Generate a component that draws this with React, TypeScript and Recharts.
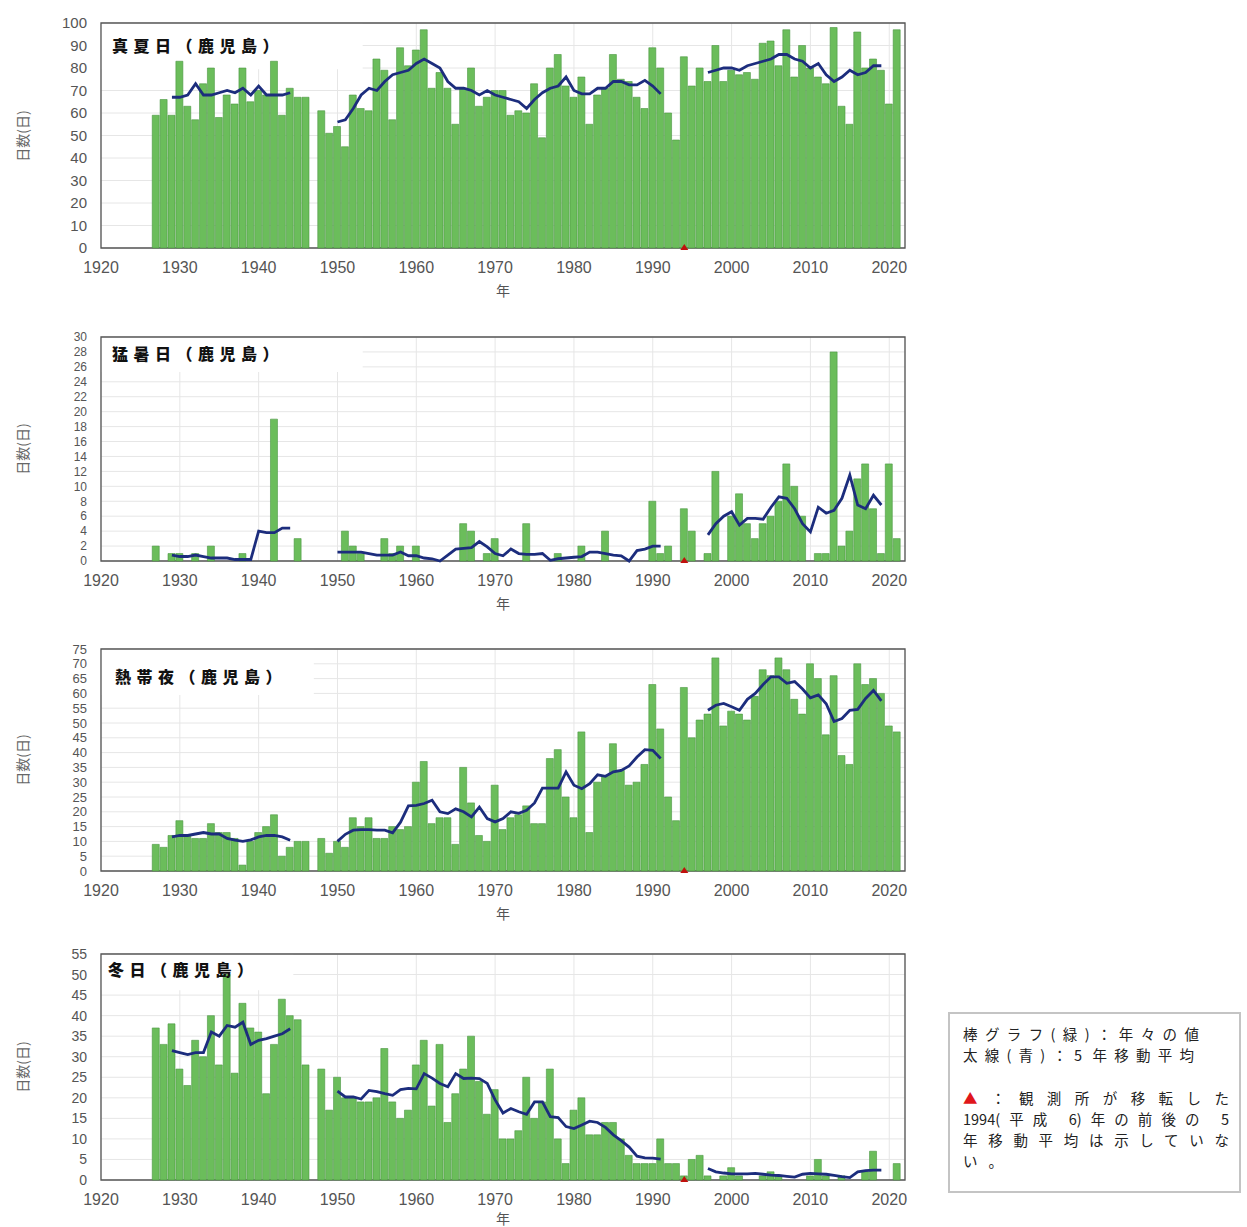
import React from 'react'
import {
  Bar,
  CartesianGrid,
  ComposedChart,
  Line,
  ReferenceArea,
  ReferenceDot,
  XAxis,
  YAxis,
} from 'recharts'

// 鹿児島: 真夏日・猛暑日・熱帯夜・冬日の年間日数 (1927–2021, 1947 欠測)
const FIRST_YEAR = 1927
const X_TICKS = [1920, 1930, 1940, 1950, 1960, 1970, 1980, 1990, 2000, 2010, 2020]

// 年々の値 (1927..2021)
const MANATSU = [
  59, 66, 59, 83, 63, 57, 73, 80, 58, 68, 64, 80, 65, 70, 68, 83, 59, 71, 67, 67,
  null,
  61, 51, 54, 45, 68, 62, 61, 84, 79, 57, 89, 81, 88, 97, 71, 78, 71, 55, 71, 80, 63, 67, 70,
  70, 59, 61, 60, 73, 49, 80, 86, 72, 67, 76, 55, 68, 71, 86, 75, 74, 67, 62, 89,
  80, 60, 48, 85, 72, 80, 74, 90, 74, 79, 77, 78, 75, 91, 92, 81, 97, 76, 90, 80,
  76, 73, 98, 63, 55, 96, 80, 84, 79, 64, 97,
]
const MOSHO = [
  2, 0, 1, 1, 0, 1, 0, 2, 0, 0, 0, 1, 0, 0, 0, 19, 0, 0, 3, 0,
  null,
  0, 0, 0, 4, 2, 1, 0, 0, 3, 1, 2, 0, 2, 0, 0, 0, 0, 0, 5, 4, 0, 1, 3,
  0, 0, 0, 5, 0, 0, 0, 1, 0, 0, 2, 0, 0, 4, 0, 0, 0, 0, 0, 8,
  1, 2, 0, 7, 4, 0, 1, 12, 0, 6, 9, 5, 3, 5, 6, 8, 13, 10, 6, 0,
  1, 1, 28, 2, 4, 11, 13, 7, 1, 13, 3,
]
const NETTAIYA = [
  9, 8, 12, 17, 12, 11, 11, 16, 13, 13, 11, 2, 10, 13, 15, 19, 5, 8, 10, 10,
  null,
  11, 6, 10, 8, 18, 15, 18, 11, 11, 15, 14, 15, 30, 37, 16, 18, 18, 9, 35, 23, 12, 10, 29,
  14, 18, 19, 22, 16, 16, 38, 41, 25, 18, 47, 13, 30, 32, 43, 34, 29, 30, 36, 63,
  48, 25, 17, 62, 45, 51, 53, 72, 49, 54, 53, 51, 59, 68, 66, 72, 68, 58, 53, 70,
  65, 46, 66, 39, 36, 70, 63, 65, 60, 49, 47,
]
const FUYUBI = [
  37, 33, 38, 27, 23, 34, 30, 40, 28, 50, 26, 43, 37, 36, 21, 33, 44, 40, 39, 28,
  null,
  27, 17, 25, 20, 20, 19, 19, 20, 32, 19, 15, 17, 28, 34, 18, 33, 14, 21, 27, 35, 24, 16, 22,
  10, 10, 12, 25, 15, 19, 27, 10, 4, 17, 20, 11, 11, 14, 14, 10, 6, 4, 4, 4,
  10, 4, 4, 1, 5, 6, 1, 0, 1, 3, 1, 0, 0, 1, 2, 1, 0, 0, 0, 1,
  5, 1, 0, 1, 0, 0, 2, 7, 0, 0, 4,
]

// 5年移動平均 (1929–1944, 1950–1991, 1997–2019)
const MANATSU_MA = [
  { start: 1929, values: [67, 67, 68, 73, 68, 68, 69, 70, 69, 71, 68, 72, 68, 68, 68, 69] },
  {
    start: 1950,
    values: [
      56, 57, 62, 68, 71, 70, 74, 77, 78, 79, 82, 84, 82, 80, 74, 71, 71, 70, 68, 70,
      68, 67, 66, 65, 62, 66, 69, 71, 72, 76, 70, 68.5, 68.5, 71, 71, 74, 74, 72.5, 72.5, 74.5,
      72, 68.5,
    ],
  },
  {
    start: 1997,
    values: [78, 79, 80, 80, 79, 81, 82, 83, 84, 86, 86, 84, 83, 80, 82, 77, 74, 76, 79, 77, 78, 81, 81],
  },
]
const MOSHO_MA = [
  { start: 1929, values: [0.8, 0.6, 0.6, 0.8, 0.6, 0.4, 0.4, 0.4, 0.2, 0.2, 0.2, 4.0, 3.8, 3.8, 4.4, 4.4] },
  {
    start: 1950,
    values: [
      1.2, 1.2, 1.2, 1.2, 1.0, 0.8, 0.8, 0.8, 1.2, 0.7, 0.7, 0.4, 0.3, 0.0, 0.8, 1.6, 1.7, 1.8, 2.6, 1.9,
      1.0, 0.7, 1.6, 1.0, 0.9, 0.9, 1.0, 0.1, 0.3, 0.4, 0.5, 0.6, 1.2, 1.2, 1.0, 0.8, 0.7, 0.0, 1.4, 1.6,
      2.0, 2.0,
    ],
  },
  {
    start: 1997,
    values: [3.5, 5, 6, 6.6, 4.8, 5.7, 5.7, 5.6, 7.2, 8.6, 8.4, 7, 5, 3.9, 7.2, 6.4, 6.8, 8.4, 11.5, 7.5, 7, 8.8, 7.5],
  },
]
const NETTAIYA_MA = [
  { start: 1929, values: [11.5, 12, 12, 12.5, 13, 12.5, 12.5, 11, 10.4, 10, 10.5, 11.5, 12, 12, 11.5, 10.4] },
  {
    start: 1950,
    values: [
      10, 12.4, 13.8, 14, 14, 13.8, 13.8, 12.9, 16.5, 22, 22.2, 22.8, 23.9, 20, 19.4, 21, 20, 18.3, 21.6, 17.7,
      16.6, 17.7, 20, 19.5, 20.5, 23, 28, 28, 28, 33.5, 29, 27.8, 29.5, 32.5, 32, 33.5, 34, 35.5, 38.5, 41,
      40.8, 38,
    ],
  },
  {
    start: 1997,
    values: [
      54.3, 56, 56.6, 55.5, 54.3, 58, 60, 63, 65.6, 65.6, 63.4, 64, 61.5, 58.5, 59.5, 56.5, 50.5, 51.5, 54.3,
      54.6, 58.3, 61, 57.5,
    ],
  },
]
const FUYUBI_MA = [
  { start: 1929, values: [31.5, 31, 30.5, 31, 31, 36, 35, 37.6, 37.2, 38.4, 33, 34, 34.4, 35, 35.6, 36.8] },
  {
    start: 1950,
    values: [
      21.6, 20.2, 20.2, 19.7, 21.8, 21.5, 21, 20.6, 22, 22.3, 22.2, 25.9, 24.8, 23.5, 22.7, 25.9, 24.7, 24.8,
      24.7, 23.5, 19.5, 16.3, 17.4, 16.6, 16, 19, 19, 15.4, 15.2, 13, 12.5, 13.4, 14.3, 14, 12.8, 11, 9.6, 8,
      5.8, 5.4, 5.3, 5.1,
    ],
  },
  {
    start: 1997,
    values: [2.8, 2.0, 1.7, 1.5, 1.5, 1.5, 1.6, 1.4, 1.2, 1.1, 0.9, 0.7, 1.4, 1.6, 1.5, 1.4, 1.1, 0.8, 0.6, 2.0, 2.3, 2.4, 2.4],
  },
]

const TICKS_100 = [0, 10, 20, 30, 40, 50, 60, 70, 80, 90, 100]
const TICKS_30 = [0, 2, 4, 6, 8, 10, 12, 14, 16, 18, 20, 22, 24, 26, 28, 30]
const TICKS_75 = [0, 5, 10, 15, 20, 25, 30, 35, 40, 45, 50, 55, 60, 65, 70, 75]
const TICKS_55 = [0, 5, 10, 15, 20, 25, 30, 35, 40, 45, 50, 55]

const RELOCATION_YEAR = 1994

type Seg = { start: number; values: number[] }

function buildRows(values: (number | null)[], segs: Seg[]) {
  return values.map((v, i) => {
    const year = FIRST_YEAR + i
    let ma: number | null = null
    for (const s of segs) {
      const k = year - s.start
      if (k >= 0 && k < s.values.length) ma = s.values[k]
    }
    return { year, v, ma }
  })
}

const FONT = '"Liberation Sans", Arial, sans-serif'
const JP = '"Noto Sans CJK JP", "Noto Sans", sans-serif'
const W = 930
const TOP_PAD = 23

interface PanelProps {
  plotTop: number
  plotH: number
  yTicks: number[]
  rows: { year: number; v: number | null; ma: number | null }[]
  title: string
  titleLeft: number
  titleDy: number
  box: [number, number] // white patch behind the title: right year, bottom value
  yFont: number
  yearTop?: number
}

function Panel({ plotTop, plotH, yTicks, rows, title, titleLeft, titleDy, box, yFont, yearTop }: PanelProps) {
  const yMax = yTicks[yTicks.length - 1]
  const height = TOP_PAD + plotH + 44
  const tri = (p: any) => (
    <polygon
      points={`${p.cx - 4},${p.cy + 2} ${p.cx + 4},${p.cy + 2} ${p.cx},${p.cy - 4}`}
      fill="#c0100c"
    />
  )
  return (
    <>
      <div style={{ position: 'absolute', left: 0, top: plotTop - TOP_PAD, width: W, height }}>
        <ComposedChart
          width={W}
          height={height}
          data={rows}
          margin={{ top: TOP_PAD, right: 25, bottom: 14, left: 0 }}
        >
          <CartesianGrid stroke="#e6e6e6" strokeWidth={1} />
          <ReferenceArea x1={1920} x2={box[0]} y1={box[1]} y2={yMax} fill="#ffffff" fillOpacity={1} stroke="none" />
          <XAxis
            type="number"
            dataKey="year"
            domain={[1920, 2022]}
            ticks={X_TICKS}
            interval={0}
            allowDataOverflow
            tickLine={false}
            axisLine={false}
            tickMargin={8}
            height={30}
            tick={{ fill: '#555', fontSize: 16, fontFamily: FONT }}
          />
          <YAxis
            type="number"
            domain={[0, yMax]}
            ticks={yTicks}
            interval={0}
            width={101}
            tickLine={false}
            axisLine={false}
            tickMargin={8}
            tick={{ fill: '#555', fontSize: yFont, fontFamily: FONT }}
          />
          <Bar dataKey="v" barSize={7} fill="#6bbd5b" stroke="#4a9742" strokeWidth={0.6} isAnimationActive={false} />
          <Line
            type="linear"
            dataKey="ma"
            stroke="#1c2d7d"
            strokeWidth={2.8}
            dot={false}
            connectNulls={false}
            isAnimationActive={false}
          />
          <ReferenceArea x1={1920} x2={2022} y1={0} y2={yMax} fill="none" stroke="#555" strokeWidth={1.3} />
          <ReferenceDot x={RELOCATION_YEAR} y={0} r={4} shape={tri} />
        </ComposedChart>
      </div>
      <div
        style={{
          position: 'absolute',
          left: titleLeft,
          top: plotTop + titleDy - 11,
          fontFamily: JP,
          fontWeight: 900,
          fontSize: 16,
          letterSpacing: 5.5,
          color: '#111',
          whiteSpace: 'nowrap',
        }}
      >
        {title}
      </div>
      <div
        style={{
          position: 'absolute',
          left: 22,
          top: plotTop + plotH / 2,
          transform: 'translate(-50%, -50%) rotate(-90deg)',
          fontFamily: JP,
          fontSize: 14,
          color: '#666',
          whiteSpace: 'nowrap',
        }}
      >
        日数(日)
      </div>
      <div
        style={{
          position: 'absolute',
          left: 496,
          top: yearTop ?? plotTop + plotH + 35,
          fontFamily: JP,
          fontSize: 14,
          lineHeight: '14px',
          color: '#555',
        }}
      >
        年
      </div>
    </>
  )
}

const noteLine = (top: number, width: number): React.CSSProperties => ({
  position: 'absolute',
  left: 13,
  top,
  width,
  height: 20,
  lineHeight: '20px',
  textAlign: 'justify',
  textAlignLast: 'justify',
  whiteSpace: 'nowrap',
})

function Note() {
  return (
    <div
      style={{
        position: 'absolute',
        left: 948,
        top: 1012,
        width: 293,
        height: 181,
        boxSizing: 'border-box',
        border: '2px solid #c4c4c4',
        background: '#fff',
        fontFamily: JP,
        fontSize: 14.5,
        color: '#222',
      }}
    >
      <div style={noteLine(10, 236)}>棒グラフ(緑)：年々の値</div>
      <div style={noteLine(31, 231)}>太線(青)：5 年移動平均</div>
      <div style={noteLine(74, 266)}>
        <span style={{ color: '#e0161b' }}>▲</span>：観測所が移転した
      </div>
      <div style={noteLine(95, 266)}>1994(平成 6)年の前後の 5</div>
      <div style={noteLine(116, 266)}>年移動平均は示していな</div>
      <div style={{ ...noteLine(137, 40), textAlignLast: 'justify' }}>い。</div>
    </div>
  )
}

export default function App() {
  return (
    <div style={{ position: 'absolute', left: 0, top: 0, width: 1247, height: 1227, background: '#fff', overflow: 'hidden' }}>
      <Panel
        plotTop={23}
        plotH={225}
        yTicks={TICKS_100}
        rows={buildRows(MANATSU, MANATSU_MA)}
        title="真夏日（鹿児島）"
        titleLeft={112}
        titleDy={21}
        box={[1953.2, 79.5]}
        yFont={15}
      />
      <Panel
        plotTop={337}
        plotH={224}
        yTicks={TICKS_30}
        rows={buildRows(MOSHO, MOSHO_MA)}
        title="猛暑日（鹿児島）"
        titleLeft={112}
        titleDy={15}
        box={[1953.2, 25.3]}
        yFont={12}
      />
      <Panel
        plotTop={649}
        plotH={222}
        yTicks={TICKS_75}
        rows={buildRows(NETTAIYA, NETTAIYA_MA)}
        title="熱帯夜（鹿児島）"
        titleLeft={115}
        titleDy={26}
        box={[1947, 59.5]}
        yFont={13}
      />
      <Panel
        plotTop={954}
        plotH={226}
        yTicks={TICKS_55}
        rows={buildRows(FUYUBI, FUYUBI_MA)}
        title="冬日（鹿児島）"
        titleLeft={108}
        titleDy={14}
        box={[1944.4, 46.2]}
        yFont={14}
        yearTop={1211}
      />
      <Note />
    </div>
  )
}
